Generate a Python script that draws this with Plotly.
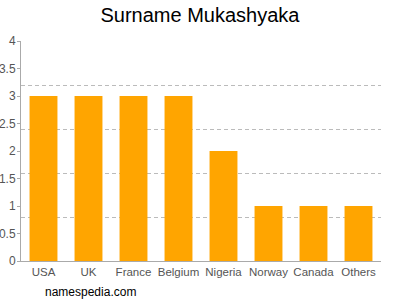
import plotly.graph_objects as go

categories = ["USA", "UK", "France", "Belgium", "Nigeria", "Norway", "Canada", "Others"]
values = [3, 3, 3, 3, 2, 1, 1, 1]
y_ticks = [0, 0.5, 1, 1.5, 2, 2.5, 3, 3.5, 4]
y_tick_text = ["0", "0.5", "1", "1.5", "2", "2.5", "3", "3.5", "4"]

fig = go.Figure()
fig.add_trace(go.Bar(x=categories, y=values, marker=dict(color="#FFA500", line=dict(width=0)),
                     hoverinfo="skip"))
# invisible trace for secondary grid axis
fig.add_trace(go.Scatter(x=categories, y=values, yaxis="y2", mode="none", showlegend=False, hoverinfo="skip"))

fig.update_layout(
    width=400, height=300,
    margin=dict(l=21, r=19, t=41, b=39),
    paper_bgcolor="white", plot_bgcolor="white",
    showlegend=False,
    bargap=0.38,
    font=dict(family="Liberation Sans, Arial, sans-serif", color="#555"),
    title=dict(text="Surname Mukashyaka", x=0.5, xanchor="center", y=0.95, yanchor="middle",
               font=dict(size=20, color="#000")),
    xaxis=dict(showline=True, linecolor="#aaa", linewidth=1, ticks="", showgrid=False,
               tickangle=0, automargin=False, tickfont=dict(size=11.5, color="#555")),
    yaxis=dict(range=[0, 4], tickvals=y_ticks, ticktext=y_tick_text, showgrid=False,
               showline=True, linecolor="#aaa", linewidth=1, ticks="outside", ticklen=3,
               tickcolor="#aaa", tickfont=dict(size=12, color="#555"), zeroline=False,
               automargin=False, ticklabelstandoff=-1),
    yaxis2=dict(range=[0, 4], overlaying="y", dtick=0.8, showgrid=True, gridcolor="#bbb",
                griddash="4px,3px", gridwidth=1, showticklabels=False, zeroline=False,
                automargin=False),
    annotations=[dict(text="namespedia.com", xref="paper", yref="paper", x=0.0, y=-31/220,
                      xanchor="left", yanchor="middle", showarrow=False, xshift=22,
                      font=dict(size=12, color="#000"))],
)
fig.write_html("out.html")
